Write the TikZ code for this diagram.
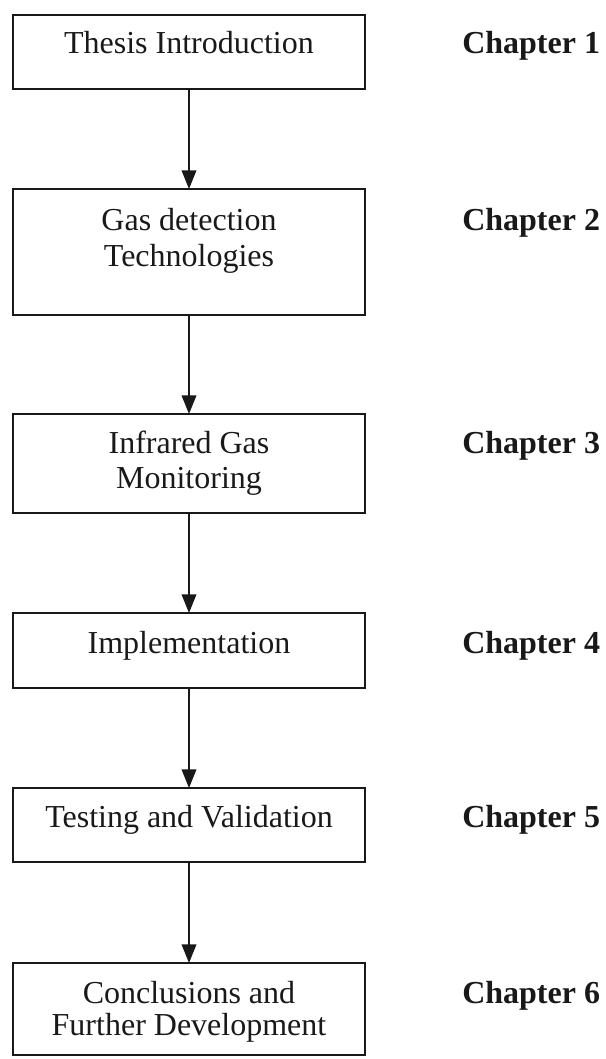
\documentclass[tikz,border=0pt]{standalone}
\usepackage{fontspec}
\setmainfont{Liberation Serif}
\usetikzlibrary{arrows.meta}
\begin{document}
\begin{tikzpicture}[x=0.75pt,y=-0.75pt,
  box/.style={draw=black!90,line width=1.2pt,rectangle,inner sep=0pt,outer sep=0pt,minimum width=264pt},
  boxtext/.style={anchor=base,align=center,inner sep=0pt,text=black!90},
  chap/.style={anchor=base west,inner sep=0pt,text=black!90,font=\fontsize{24}{28}\selectfont\bfseries},
  flow/.style={draw=black!90,line width=1.2pt,-{Triangle[width=11pt,length=14pt]}}]
\useasboundingbox (0,0) rectangle (606,1059);
% boxes
\node[box,minimum height=55.5pt] (b1) at (189,52) {};
\node[box,minimum height=94.5pt] (b2) at (189,252) {};
\node[box,minimum height=74.25pt] (b3) at (189,463.5) {};
\node[box,minimum height=56.25pt] (b4) at (189,650.5) {};
\node[box,minimum height=55.5pt] (b5) at (189,825) {};
\node[box,minimum height=69pt] (b6) at (189,1009) {};
% box texts (multi-line nodes are anchored at the last line's baseline)
\node[boxtext,font=\fontsize{24}{27.5}\selectfont] (t1) at (189,54) {Thesis Introduction};
\node[boxtext,font=\fontsize{24}{27.5}\selectfont] (t2) at (189,267) {Gas detection\\Technologies};
\node[boxtext,font=\fontsize{24}{26}\selectfont] (t3) at (189,488) {Infrared Gas\\Monitoring};
\node[boxtext,font=\fontsize{24}{27.5}\selectfont] (t4) at (189,653) {Implementation};
\node[boxtext,font=\fontsize{24}{27.5}\selectfont] (t5) at (189,827) {Testing and Validation};
\node[boxtext,font=\fontsize{24}{24}\selectfont] (t6) at (189,1035) {Conclusions and\\Further Development};
% chapter labels
\node[chap] (c1) at (462,54) {Chapter 1};
\node[chap] (c2) at (462,230) {Chapter 2};
\node[chap] (c3) at (462,453) {Chapter 3};
\node[chap] (c4) at (462,653) {Chapter 4};
\node[chap] (c5) at (462,827) {Chapter 5};
\node[chap] (c6) at (462,1003) {Chapter 6};
% arrows
\draw[flow] (b1.south) -- (b2.north);
\draw[flow] (b2.south) -- (b3.north);
\draw[flow] (b3.south) -- (b4.north);
\draw[flow] (b4.south) -- (b5.north);
\draw[flow] (b5.south) -- (b6.north);
\end{tikzpicture}
\end{document}
